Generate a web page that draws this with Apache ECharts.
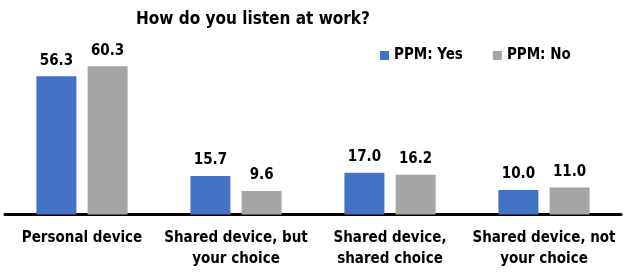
<!DOCTYPE html>
<html>
<head>
<meta charset="utf-8">
<script src="https://cdn.jsdelivr.net/npm/echarts@6/dist/echarts.min.js"></script>
<style>html,body{margin:0;padding:0;background:#fff}#c{width:630px;height:275px}</style>
</head>
<body>
<div id="c"></div>
<script>
var categories = ['Personal device', 'Shared device, but\nyour choice', 'Shared device,\nshared choice', 'Shared device, not\nyour choice'];
var seriesNames = ['PPM: Yes', 'PPM: No'];
var ppmYes = [56.3, 15.7, 17.0, 10.0];
var ppmNo = [60.3, 9.6, 16.2, 11.0];

var FONT = '"DejaVu Sans Condensed", "DejaVu Sans", sans-serif';
var chart = echarts.init(document.getElementById('c'), null, {renderer: 'canvas'});
var labelStyle = {
  show: true, position: 'top', distance: 8,
  fontFamily: FONT, fontWeight: 'bold', fontSize: 15, color: '#000',
  formatter: function (p) { return p.value.toFixed(1); }
};
chart.setOption({
  animation: false,
  backgroundColor: '#fff',
  textStyle: {fontFamily: FONT},
  title: {
    text: 'How do you listen at work?',
    left: 131, top: 6,
    textStyle: {fontFamily: FONT, fontWeight: 'bold', fontSize: 17, color: '#000'}
  },
  legend: {
    data: seriesNames,
    left: 375, top: 43,
    itemWidth: 9, itemHeight: 9, itemGap: 30,
    icon: 'rect',
    textStyle: {fontFamily: FONT, fontWeight: 'bold', fontSize: 15, color: '#000'}
  },
  grid: {left: 5, right: 9, top: 42.5, bottom: 60.5, containLabel: false},
  xAxis: {
    type: 'category',
    data: categories,
    axisLine: {lineStyle: {color: '#000', width: 3}},
    axisTick: {show: false},
    axisLabel: {
      interval: 0, margin: 13, lineHeight: 21,
      fontFamily: FONT, fontWeight: 'bold', fontSize: 15, color: '#000'
    }
  },
  yAxis: {
    type: 'value', min: 0, max: 70,
    show: false,
    splitLine: {show: false}
  },
  series: [
    {name: seriesNames[0], type: 'bar', data: ppmYes, barWidth: 40, barGap: '28%',
     itemStyle: {color: '#4472C4'}, label: labelStyle},
    {name: seriesNames[1], type: 'bar', data: ppmNo, barWidth: 40,
     itemStyle: {color: '#A5A5A5'}, label: labelStyle}
  ]
});
</script>
</body>
</html>
